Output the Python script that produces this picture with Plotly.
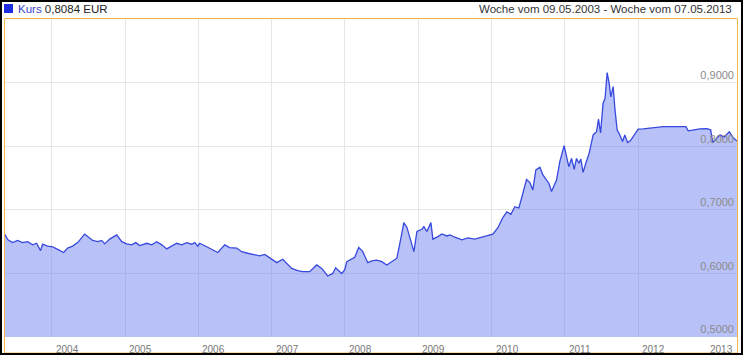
import datetime as dt
import plotly.graph_objects as go

# ---- data (decimal year, EUR) ----
t_years = [
    2003.353, 2003.404, 2003.468, 2003.536, 2003.604, 2003.673, 2003.741, 2003.795, 2003.850, 2003.877,
    2003.945, 2004.014, 2004.082, 2004.164, 2004.218, 2004.286, 2004.355, 2004.450, 2004.491, 2004.559,
    2004.628, 2004.682, 2004.723, 2004.791, 2004.887, 2004.955, 2005.023, 2005.091, 2005.146, 2005.201,
    2005.296, 2005.364, 2005.432, 2005.501, 2005.569, 2005.637, 2005.705, 2005.774, 2005.842, 2005.910,
    2005.951, 2005.992, 2006.019, 2006.115, 2006.196, 2006.265, 2006.360, 2006.428, 2006.524, 2006.592,
    2006.674, 2006.769, 2006.838, 2006.906, 2006.974, 2007.070, 2007.151, 2007.206, 2007.274, 2007.356,
    2007.424, 2007.520, 2007.615, 2007.684, 2007.765, 2007.834, 2007.874, 2007.956, 2007.997, 2008.025,
    2008.093, 2008.134, 2008.188, 2008.243, 2008.311, 2008.366, 2008.434, 2008.502, 2008.570, 2008.638,
    2008.707, 2008.748, 2008.802, 2008.843, 2008.884, 2008.939, 2008.980, 2009.048, 2009.075, 2009.116,
    2009.171, 2009.198, 2009.266, 2009.321, 2009.389, 2009.430, 2009.498, 2009.594, 2009.675, 2009.771,
    2009.866, 2009.948, 2010.016, 2010.085, 2010.153, 2010.207, 2010.262, 2010.317, 2010.371, 2010.408,
    2010.476, 2010.521, 2010.562, 2010.603, 2010.658, 2010.699, 2010.749, 2010.780, 2010.817, 2010.849,
    2010.885, 2010.930, 2010.989, 2011.022, 2011.053, 2011.090, 2011.126, 2011.158, 2011.190, 2011.217,
    2011.248, 2011.285, 2011.330, 2011.385, 2011.431, 2011.458, 2011.486, 2011.521, 2011.548, 2011.576,
    2011.603, 2011.626, 2011.658, 2011.681, 2011.712, 2011.749, 2011.786, 2011.817, 2011.854, 2011.895,
    2011.931, 2011.999, 2012.067, 2012.135, 2012.226, 2012.340, 2012.476, 2012.649, 2012.681, 2012.749,
    2012.840, 2012.932, 2012.986, 2013.014, 2013.068, 2013.113, 2013.168, 2013.240, 2013.287, 2013.332,
    2013.345,
]
kurs = [
    0.663, 0.653, 0.6485, 0.652, 0.6485, 0.650, 0.645, 0.6475, 0.636, 0.646,
    0.643, 0.642, 0.638, 0.633, 0.640, 0.643, 0.6485, 0.662, 0.658, 0.652,
    0.650, 0.652, 0.6465, 0.654, 0.6606, 0.650, 0.6465, 0.645, 0.6485, 0.6438,
    0.6475, 0.645, 0.650, 0.645, 0.6386, 0.643, 0.6475, 0.645, 0.6485, 0.646,
    0.6485, 0.643, 0.6475, 0.642, 0.637, 0.633, 0.645, 0.6406, 0.640, 0.6343,
    0.6318, 0.629, 0.6276, 0.630, 0.624, 0.617, 0.6224, 0.616, 0.608, 0.6044,
    0.6028, 0.6028, 0.6134, 0.608, 0.596, 0.600, 0.609, 0.600, 0.6055, 0.6186,
    0.6224, 0.6255, 0.641, 0.6343, 0.617, 0.6197, 0.621, 0.6186, 0.6134, 0.6186,
    0.624, 0.6475, 0.680, 0.6728, 0.658, 0.6343, 0.666, 0.6696, 0.6737, 0.666,
    0.680, 0.654, 0.658, 0.6622, 0.659, 0.6606, 0.657, 0.653, 0.656, 0.654,
    0.657, 0.660, 0.662, 0.672, 0.688, 0.697, 0.693, 0.705, 0.703, 0.7184,
    0.748, 0.743, 0.7315, 0.763, 0.767, 0.755, 0.7457, 0.742, 0.729, 0.739,
    0.747, 0.776, 0.801, 0.784, 0.768, 0.781, 0.764, 0.781, 0.7735, 0.780,
    0.759, 0.7735, 0.789, 0.818, 0.823, 0.843, 0.821, 0.868, 0.876, 0.916,
    0.8995, 0.878, 0.894, 0.860, 0.826, 0.818, 0.8076, 0.818, 0.806, 0.809,
    0.8155, 0.827, 0.8276, 0.8287, 0.830, 0.831, 0.831, 0.831, 0.8244, 0.826,
    0.8276, 0.828, 0.826, 0.806, 0.8126, 0.818, 0.8145, 0.823, 0.8145, 0.810,
    0.8084,
]
year_labels = ["2004", "2005", "2006", "2007", "2008", "2009", "2010", "2011", "2012", "2013"]
y_ticks = [0.5, 0.6, 0.7, 0.8, 0.9]
start_date = "2003-05-09"
end_date = "2013-05-07"
legend_name = "Kurs"
legend_value = "0,8084 EUR"
title_right = "Woche vom 09.05.2003 - Woche vom 07.05.2013"


def to_date(t):
    y = int(t)
    d0 = dt.datetime(y, 1, 1)
    d1 = dt.datetime(y + 1, 1, 1)
    return d0 + (d1 - d0) * (t - y)


dates = [to_date(t) for t in t_years]

# ---- layout geometry ----
W, H = 743, 355
ML, MR, MT, MB = 4, 6, 18, 18
PW, PH = W - ML - MR, H - MT - MB


def px_x(p):
    return (p - ML) / PW


def px_y(p):
    return (H - MB - p) / PH


FONT = "Arial, Liberation Sans, sans-serif"

fig = go.Figure()
fig.add_trace(go.Scatter(
    x=dates, y=kurs, mode="lines",
    line=dict(color="rgb(55,72,222)", width=1.3),
    fill="tozeroy", fillcolor="rgba(100,120,240,0.45)",
    showlegend=False, hoverinfo="skip",
))

fig.update_layout(
    width=W, height=H,
    margin=dict(l=ML, r=MR, t=MT, b=MB, pad=0),
    paper_bgcolor="white", plot_bgcolor="white",
    separators=",.",
    showlegend=False,
    xaxis=dict(
        type="date", range=[start_date, end_date],
        tickvals=[f"{y}-01-01" for y in year_labels],
        showticklabels=False, ticks="",
        showgrid=True, gridcolor="#e6e6e6", gridwidth=1,
        zeroline=False, showline=False,
    ),
    yaxis=dict(
        range=[0.5, 1.002], side="right",
        tickvals=y_ticks, tickformat=".4f",
        ticklabelposition="inside top",
        tickfont=dict(family=FONT, size=11, color="#8a8a8a"),
        showgrid=True, gridcolor="#e6e6e6", gridwidth=1,
        zeroline=False, showline=False, ticks="",
    ),
)

# year labels, left-aligned just right of each gridline
for i, y in enumerate(year_labels):
    if i == len(year_labels) - 1:
        fig.add_annotation(x=px_x(735), xref="paper", xanchor="right",
                           y=px_y(349.5), yref="paper", yanchor="middle",
                           text=y, showarrow=False,
                           font=dict(family=FONT, size=10, color="#777777"))
    else:
        fig.add_annotation(x=f"{y}-01-01", xref="x", xanchor="left", xshift=2,
                           y=px_y(349.5), yref="paper", yanchor="middle",
                           text=y, showarrow=False,
                           font=dict(family=FONT, size=10, color="#777777"))

# legend
fig.add_shape(type="rect", xref="paper", yref="paper",
              x0=px_x(4), x1=px_x(13), y0=px_y(13), y1=px_y(4),
              fillcolor="rgb(30,45,225)", line=dict(width=0))
fig.add_annotation(x=px_x(16), xref="paper", xanchor="left",
                   y=px_y(9), yref="paper", yanchor="middle",
                   text=f"<span style='color:rgb(60,70,210)'>{legend_name}</span> {legend_value}",
                   showarrow=False, font=dict(family=FONT, size=11.5, color="#222222"))
fig.add_annotation(x=px_x(734), xref="paper", xanchor="right",
                   y=px_y(9), yref="paper", yanchor="middle",
                   text=title_right, showarrow=False,
                   font=dict(family=FONT, size=11.5, color="#333333"))

# orange frame around plot area
fig.add_shape(type="rect", xref="paper", yref="paper",
              x0=px_x(4.5), x1=px_x(737.5), y0=px_y(353), y1=px_y(18.5),
              line=dict(color="rgb(240,185,70)", width=1), fillcolor="rgba(0,0,0,0)",
              layer="above")
# black outer border
fig.add_shape(type="rect", xref="paper", yref="paper",
              x0=px_x(1), x1=px_x(742), y0=px_y(354), y1=px_y(1),
              line=dict(color="black", width=2), fillcolor="rgba(0,0,0,0)",
              layer="above")

fig.write_html("out.html")
